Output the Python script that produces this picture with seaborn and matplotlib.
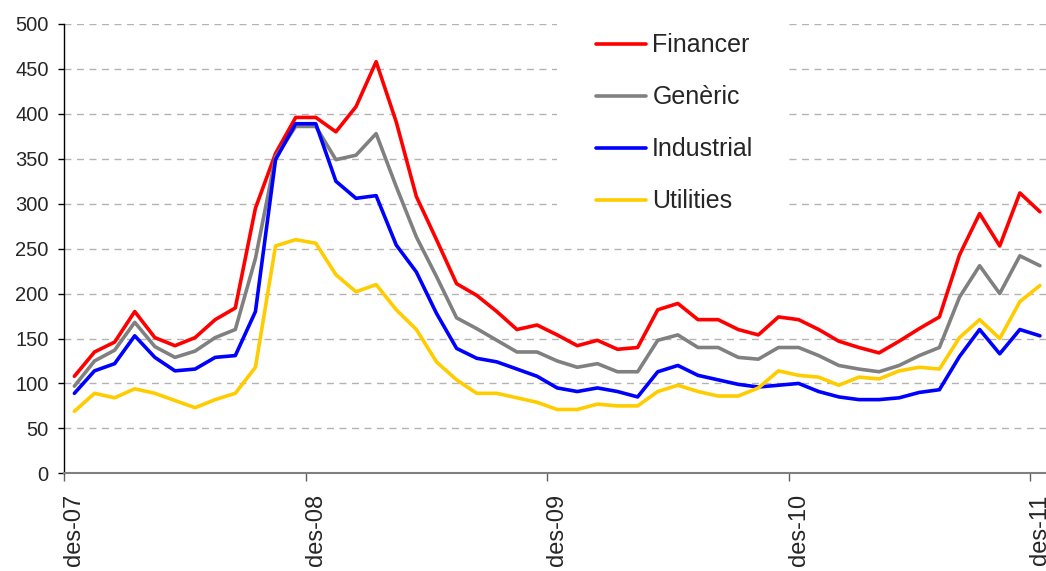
import numpy as np
import pandas as pd
import matplotlib
matplotlib.use("Agg")
import matplotlib.pyplot as plt
from matplotlib.patches import Rectangle
import seaborn as sns

# monthly values, index 0 = des-07 ... index 48 = des-11
financer = [108, 135, 146, 180, 151, 142, 151, 171, 184, 295, 356, 396, 396, 380,
            408, 458, 391, 308, 260, 211, 198, 180, 160, 165, 154, 142, 148, 138,
            140, 182, 189, 171, 171, 160, 154, 174, 171, 160, 147, 140, 134, 147,
            161, 174, 243, 289, 253, 312, 291]
generic = [97, 125, 137, 168, 141, 129, 136, 151, 160, 239, 352, 386, 386, 349,
           354, 378, 319, 263, 219, 173, 161, 148, 135, 135, 125, 118, 122, 113,
           113, 148, 154, 140, 140, 129, 127, 140, 140, 131, 120, 116, 113, 120,
           131, 140, 196, 231, 200, 242, 231]
industrial = [89, 114, 122, 153, 129, 114, 116, 129, 131, 180, 349, 389, 389, 325,
              306, 309, 254, 224, 178, 139, 128, 124, 116, 108, 95, 91, 95, 91,
              85, 113, 120, 109, 104, 99, 96, 98, 100, 91, 85, 82, 82, 84,
              90, 93, 130, 160, 133, 160, 153]
utilities = [69, 89, 84, 94, 89, 81, 73, 82, 89, 118, 253, 260, 256, 221,
             202, 210, 182, 160, 124, 104, 89, 89, 84, 79, 71, 71, 77, 75,
             75, 91, 98, 91, 86, 86, 95, 114, 109, 107, 98, 107, 105, 114,
             118, 116, 151, 171, 150, 191, 209]

series_names = ['Financer', 'Genèric', 'Industrial', 'Utilities']
series_colors = ['#ff0000', '#808080', '#0000ff', '#ffcc00']
tick_labels = ['des-07', 'des-08', 'des-09', 'des-10', 'des-11']

months = np.arange(len(financer))
df = pd.DataFrame({
    'mes': np.tile(months, 4),
    'valor': financer + generic + industrial + utilities,
    'serie': np.repeat(series_names, len(months)),
})

sns.set_style('white')
plt.rcParams['font.family'] = ['Liberation Sans', 'DejaVu Sans']

W, H = 1046, 571
fig = plt.figure(figsize=(W / 100, H / 100), dpi=100)
ax = fig.add_axes([0.0615, 0.1711, 0.9385, 0.7869])

sns.lineplot(data=df, x='mes', y='valor', hue='serie', hue_order=series_names,
             palette=series_colors, linewidth=2.6, ax=ax)

ax.set_xlim(-0.5, 48.3)
ax.set_ylim(0, 500)
ax.set_yticks(range(0, 501, 50))
ax.yaxis.grid(True, linestyle=(0, (5, 4)), color='#b3b3b3', linewidth=1)
ax.xaxis.grid(False)
ax.set_xlabel('')
ax.set_ylabel('')

# labels sit on the december point, tick marks between months
ax.set_xticks(range(0, 49, 12))
ax.set_xticklabels(tick_labels, rotation=90)
ax.set_xticks([m - 0.5 for m in range(0, 49, 12)], minor=True)
ax.tick_params(axis='x', which='major', length=0, pad=15, labelsize=17)
ax.tick_params(axis='x', which='minor', bottom=True, length=6, width=1, color='#606060')
ax.tick_params(axis='y', left=True, length=4.3, width=1, color='black', pad=7, labelsize=14.5)

for s in ['top', 'right']:
    ax.spines[s].set_visible(False)
ax.spines['left'].set_color('black')
ax.spines['left'].set_linewidth(1)
ax.spines['bottom'].set_color('#808080')
ax.spines['bottom'].set_linewidth(1.5)

# white block behind the legend hides the gridlines there
ax.add_patch(Rectangle((557 / W, 1 - 228 / H), 230 / W, 216 / H,
                       transform=fig.transFigure, facecolor='white',
                       edgecolor='none', zorder=1, clip_on=False))

leg = ax.legend(loc='upper left', bbox_to_anchor=(596 / W, 1 - 33.5 / H),
                bbox_transform=fig.transFigure, frameon=False, fontsize=18,
                handlelength=2.0, handletextpad=0.25, labelspacing=1.12,
                borderpad=0, borderaxespad=0)
leg.set_title(None)

fig.savefig('out.png', dpi=100)
